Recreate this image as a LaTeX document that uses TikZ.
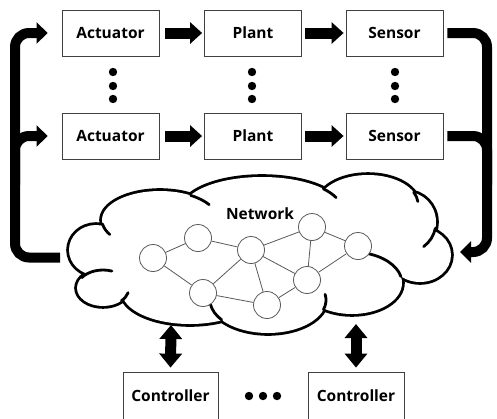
\documentclass[tikz,border=0pt]{standalone}
\usepackage{fontspec}
\setmainfont{Open Sans}
\usetikzlibrary{arrows.meta,calc}
\begin{document}
\begin{tikzpicture}[x=1pt,y=-1pt,
  box/.style={draw=black!75, line width=0.8pt, minimum width=97pt, minimum height=46pt, inner sep=0pt,
              font=\fontsize{15.5}{18}\selectfont\bfseries},
  blk/.style={line width=11pt, -{Triangle[length=12pt,width=21pt]}},
  fb/.style={line width=10pt, rounded corners=14pt},
  fbtip/.style={-{Triangle[length=11pt,width=21pt]}},
  dbl/.style={line width=11pt, {Triangle[length=14pt,width=22pt]}-{Triangle[length=14pt,width=22pt]}},
  cloudline/.style={line width=2.8pt, line cap=round},
  nd/.style={circle, draw=black!65, fill=white, line width=0.8pt, minimum size=27pt, inner sep=0pt},
  edge/.style={draw=black!65, line width=0.8pt}]
\useasboundingbox (0,0) rectangle (497,418);
\clip (0,0) rectangle (497,418);

% boxes
\node[box] (a1) at (110.5,33) {Actuator};
\node[box] (p1) at (253,33) {Plant};
\node[box] (s1) at (394.5,33) {Sensor};
\node[box] (a2) at (110.5,136) {Actuator};
\node[box] (p2) at (253,136) {Plant};
\node[box] (s2) at (394.5,136) {Sensor};
\node[box, minimum width=95pt, minimum height=48pt] (c1) at (170.5,396) {Controller};
\node[box, minimum width=96pt, minimum height=48pt] (c2) at (356,396) {Controller};

% block arrows
\draw[blk] ([xshift=6pt]a1.east) -- ([xshift=-2pt]p1.west);
\draw[blk] ([xshift=3pt]p1.east) -- ([xshift=-2pt]s1.west);
\draw[blk] ([xshift=6pt]a2.east) -- ([xshift=-2pt]p2.west);
\draw[blk] ([xshift=3pt]p2.east) -- ([xshift=-2pt]s2.west);

% vertical dots
\foreach \x in {113,252,395}{
  \foreach \y in {72,86,99}{
    \fill (\x,\y) circle[radius=4.2];
  }
}

% cloud
\def\lobes{96/250/27/25, 160/220/58/29, 262/210/80/33, 368/204/50/29, 407/222/29/30,
           420/255/31/27, 352/283/50/31, 268/300/58/33, 190/292/68/32, 103/288/26/18}
\foreach \cx/\cy/\rx/\ry in \lobes{
  \draw[line width=5.6pt] (\cx,\cy) ellipse[x radius=\rx, y radius=\ry];
}
\foreach \cx/\cy/\rx/\ry in \lobes{
  \fill[white] (\cx,\cy) ellipse[x radius=\rx, y radius=\ry];
}
\fill[white] (96,250) -- (160,220) -- (262,210) -- (368,204) -- (407,222) -- (420,255)
   -- (352,283) -- (268,300) -- (190,292) -- (103,288) -- cycle;
\foreach \cx/\cy/\rx/\ry/\a/\b in {160/220/58/29/172/150, 103/288/26/18/215/290, 103/288/26/18/45/15,
   160/220/58/29/-58/-32, 262/210/80/33/-40/-22, 368/204/50/29/-24/-5, 407/222/29/30/12/55,
   352/283/50/31/-75/-12, 268/300/58/33/17/-10, 268/300/58/33/143/172}{
  \draw[cloudline] ({\cx+\rx*cos(\a)},{\cy+\ry*sin(\a)}) arc[start angle=\a, end angle=\b, x radius=\rx, y radius=\ry];
}

% network
\node[font=\fontsize{15.5}{18}\selectfont\bfseries] (net) at (260,214) {Network};
\node[nd] (n1) at (153,258) {};
\node[nd] (n2) at (198,238) {};
\node[nd] (n3) at (251,250) {};
\node[nd] (n4) at (203,293) {};
\node[nd] (n5) at (312,227) {};
\node[nd] (n6) at (358,246) {};
\node[nd] (n7) at (307,280) {};
\node[nd] (n8) at (267,305) {};
\foreach \u/\v in {n1/n2, n1/n4, n2/n3, n3/n4, n4/n8, n3/n5, n3/n7, n3/n8, n5/n6, n5/n7, n6/n7, n7/n8}{
  \draw[edge] (\u) -- (\v);
}

% feedback
\coordinate (cl) at (60,257.5);
\coordinate (cr) at (460,252);
\coordinate (tlc) at (15,33);
\coordinate (trc) at (487,33);
\draw[fb, fbtip] (cl) -- (15,257.5) -- (tlc) -- ([xshift=-14pt]a1.west);
\draw[fb, fbtip] (15,185) -- (15,136) -- ([xshift=-14pt]a2.west);
\draw[fb, fbtip] ([xshift=4pt]s1.east) -- (trc) -- (487,252) -- (cr);
\draw[fb] ([xshift=4pt]s2.east) -- (487,136) -- (487,185);

% controller links
\coordinate (cb1) at (171,325);
\coordinate (cb2) at (356,324);
\draw[dbl] (cb1) -- ([yshift=4pt]c1.north);
\draw[dbl] (cb2) -- ([yshift=4pt]c2.north);
\foreach \x in {249,263,277}{ \fill (\x,396) circle[radius=4.2]; }
\end{tikzpicture}
\end{document}
